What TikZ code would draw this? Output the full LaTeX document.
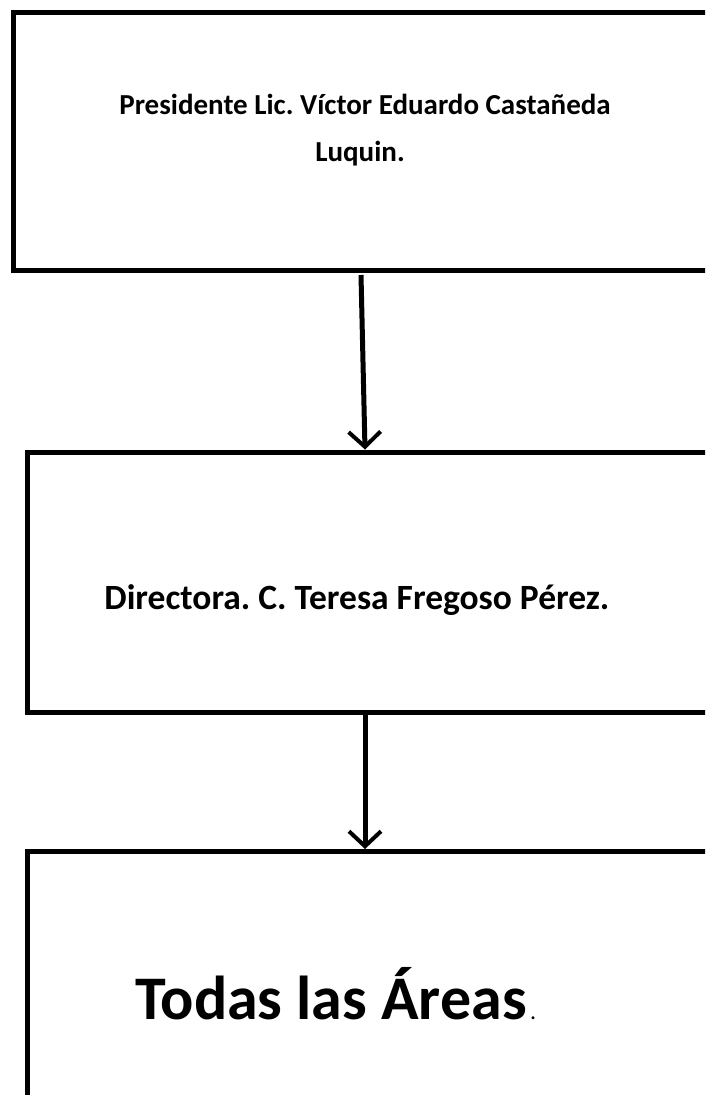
\documentclass[tikz,border=0pt]{standalone}
\usepackage{fontspec}
\setmainfont{Carlito}
\usetikzlibrary{arrows.meta}
\begin{document}
\frenchspacing
\begin{tikzpicture}[x=1pt,y=-1pt,
  orgbox/.style={draw=black,line width=5pt,rectangle,inner sep=0pt,anchor=north west,line join=miter},
  conn/.style={line width=5pt,-{Straight Barb[length=15pt,width=32pt,line width=4pt]}},
  lbl/.style={font=\bfseries\fontsize{29}{47}\selectfont,inner sep=0pt,anchor=base}]
\useasboundingbox (0,0) rectangle (705,1095);
\clip (0,0) rectangle (705,1095);
\node[orgbox,minimum width=720pt,minimum height=258.5pt] (b1) at (11,9.5) {};
\node[orgbox,minimum width=720pt,minimum height=260pt] (b2) at (24.5,449.5) {};
\node[orgbox,minimum width=720pt,minimum height=300pt] (b3) at (25,849) {};
\node[lbl] (t1) at (365,114) {Presidente Lic. Víctor Eduardo Castañeda};
\node[lbl] (t1b) at (360,161) {Luquin.};
\node[lbl,font=\bfseries\fontsize{35.5}{40}\selectfont] (t2) at (357,609) {Directora. C. Teresa Fregoso Pérez.};
\node[inner sep=0pt,anchor=base,font=\bfseries\fontsize{62}{70}\selectfont] (t3) at (331,1019) {Todas las Áreas};
\node[inner sep=0pt,anchor=base west,font=\fontsize{24}{28}\selectfont] (t3p) at ([xshift=3pt]t3.base east) {.};
\coordinate (a1s) at (361,275);
\coordinate (a1e) at (365,449.5);
\coordinate (a2s) at (365,712);
\coordinate (a2e) at (365,849);
\draw[conn] (a1s) -- (a1e);
\draw[conn] (a2s) -- (a2e);
\end{tikzpicture}
\end{document}
